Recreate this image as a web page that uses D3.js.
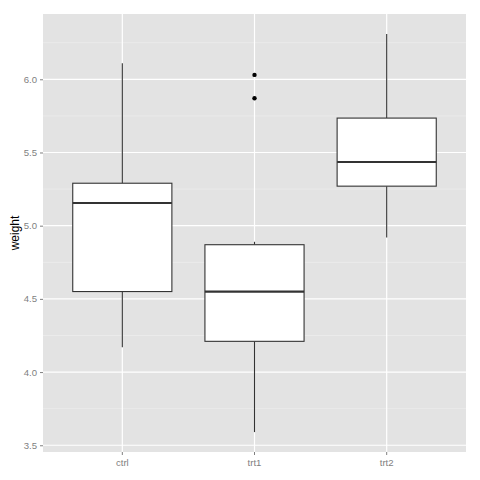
<!DOCTYPE html>
<html>
<head>
<meta charset="utf-8">
<script src="https://cdn.jsdelivr.net/npm/d3@7"></script>
<style>
html,body{margin:0;padding:0;background:#fff;}
svg{display:block;}
</style>
</head>
<body>
<svg id="chart" width="480" height="480"></svg>
<script>
const groups = ["ctrl", "trt1", "trt2"];
const lowerWhisker = [4.17, 3.59, 4.92];
const q1 = [4.55, 4.21, 5.27];
const median = [5.155, 4.55, 5.435];
const q3 = [5.29, 4.87, 5.735];
const upperWhisker = [6.11, 4.89, 6.31];
const outliers = [[], [5.87, 6.03], []];
const yTicks = [3.5, 4.0, 4.5, 5.0, 5.5, 6.0];
const yMinor = [3.75, 4.25, 4.75, 5.25, 5.75, 6.25];

const svg = d3.select("#chart");
const panel = {left: 43, top: 14, right: 466, bottom: 452};

const y = d3.scaleLinear().domain([3.454, 6.446]).range([panel.bottom, panel.top]);
const x = d3.scaleBand().domain(groups).range([panel.left, panel.right]).paddingOuter(0.1).paddingInner(0);

// background
svg.append("rect").attr("x", panel.left).attr("y", panel.top)
  .attr("width", panel.right - panel.left).attr("height", panel.bottom - panel.top)
  .attr("fill", "#E3E3E3");

// minor grid
svg.selectAll(".ymin").data(yMinor).enter().append("line")
  .attr("x1", panel.left).attr("x2", panel.right)
  .attr("y1", d => y(d)).attr("y2", d => y(d))
  .attr("stroke", "#F0F0F0").attr("stroke-width", 0.6);

// major grid
svg.selectAll(".ymaj").data(yTicks).enter().append("line")
  .attr("x1", panel.left).attr("x2", panel.right)
  .attr("y1", d => y(d)).attr("y2", d => y(d))
  .attr("stroke", "#FFFFFF").attr("stroke-width", 1.2);
svg.selectAll(".xmaj").data(groups).enter().append("line")
  .attr("y1", panel.top).attr("y2", panel.bottom)
  .attr("x1", d => x(d) + x.bandwidth()/2).attr("x2", d => x(d) + x.bandwidth()/2)
  .attr("stroke", "#FFFFFF").attr("stroke-width", 1.2);

// axes
const yAxis = d3.axisLeft(y).tickValues(yTicks).tickFormat(d3.format(".1f")).tickSize(3).tickPadding(3);
const gy = svg.append("g").attr("transform", `translate(${panel.left},0)`).call(yAxis);
const xAxis = d3.axisBottom(x).tickSize(3).tickPadding(4);
const gx = svg.append("g").attr("transform", `translate(0,${panel.bottom})`).call(xAxis);
[gy, gx].forEach(g => {
  g.select(".domain").remove();
  g.selectAll(".tick line").attr("stroke", "#7F7F7F");
  g.selectAll(".tick text").attr("fill", "#7F7F7F")
    .style("font-family", "Liberation Sans, Arial, sans-serif").style("font-size", "9.6px");
});

// y title
svg.append("text").attr("transform", `translate(19,${(panel.top+panel.bottom)/2}) rotate(-90)`)
  .attr("text-anchor", "middle").style("font-family", "Liberation Sans, Arial, sans-serif")
  .style("font-size", "12px").attr("fill", "#000").text("weight");

// boxes
const bw = x.bandwidth() * 0.75;
groups.forEach((g, i) => {
  const cx = x(g) + x.bandwidth()/2;
  const gg = svg.append("g");
  gg.append("line").attr("x1", cx).attr("x2", cx).attr("y1", y(upperWhisker[i])).attr("y2", y(q3[i]))
    .attr("stroke", "#333333").attr("stroke-width", 1.1);
  gg.append("line").attr("x1", cx).attr("x2", cx).attr("y1", y(q1[i])).attr("y2", y(lowerWhisker[i]))
    .attr("stroke", "#333333").attr("stroke-width", 1.1);
  gg.append("rect").attr("x", cx - bw/2).attr("y", y(q3[i])).attr("width", bw)
    .attr("height", y(q1[i]) - y(q3[i])).attr("fill", "#FFFFFF").attr("stroke", "#333333").attr("stroke-width", 1.1);
  gg.append("line").attr("x1", cx - bw/2).attr("x2", cx + bw/2).attr("y1", y(median[i])).attr("y2", y(median[i]))
    .attr("stroke", "#333333").attr("stroke-width", 2.2);
  gg.selectAll("circle").data(outliers[i]).enter().append("circle")
    .attr("cx", cx).attr("cy", d => y(d)).attr("r", 2.2).attr("fill", "#000");
});
</script>
</body>
</html>
